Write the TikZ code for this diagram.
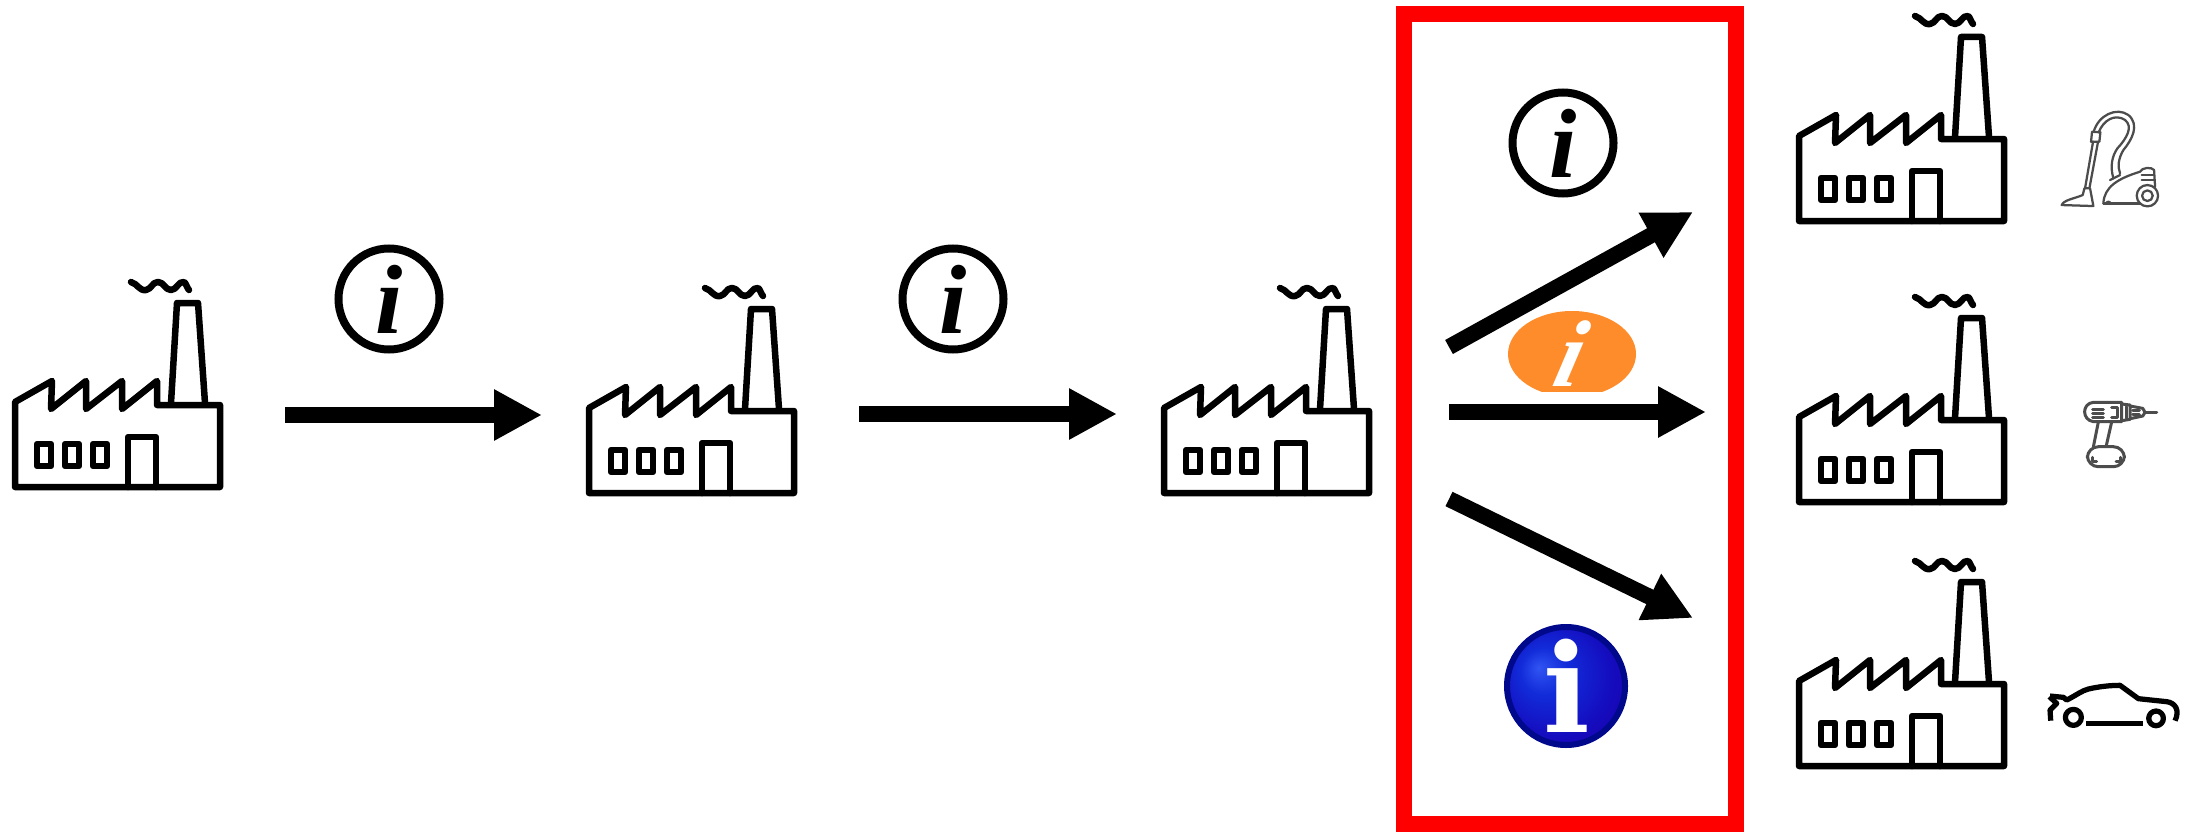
\documentclass[tikz,border=0pt]{standalone}
\usepackage{fontspec}
\usetikzlibrary{arrows.meta}
\newfontfamily\slabfont{DejaVu Serif}
\newfontfamily\infofont{Liberation Serif}
\definecolor{infoorange}{HTML}{FF8C2B}
\definecolor{infonavy}{HTML}{00088C}
\pgfdeclareradialshading{infoball}{\pgfpoint{-11.7bp}{7.8bp}}{rgb(0bp)=(.19,.33,.95); rgb(10bp)=(.07,.17,.85); rgb(25bp)=(.08,.05,.75); rgb(36bp)=(.1,0,.68); rgb(50bp)=(.1,0,.68)}
\tikzset{
	flow/.style={line width=3.2mm, -{Triangle[length=9.6mm,width=9.6mm]}},
	outline/.style={line width=1.3mm, line join=round, line cap=round},
	infoplain/.style={circle, draw, line width=1.6mm, minimum size=20.2mm, inner sep=0pt, font=\fontsize{56}{60}\selectfont\infofont\bfseries\itshape},
	thinicon/.style={line width=0.45mm, draw=black!70, line join=round, line cap=round},
	drillicon/.style={line width=0.6mm, draw=black!70, line join=round, line cap=round},
	caricon/.style={line width=1.05mm, line join=round}
}
\newcommand{\factory}[2]{
	\begin{scope}[shift={(#1,#2)}]
		\draw[outline] (15,487) -- (15,402) -- (52,381) -- (51,409) -- (86,381) -- (86,409) -- (122,381) -- (122,409) -- (157,381) -- (157,405) -- (220,405) -- (220,487) -- cycle;
		\draw[outline] (171,403) -- (177,303) -- (198,303) -- (205,403);
		\draw[outline] (131,282) .. controls (138,284) and (139,291) .. (146,290) .. controls (152,289) and (152,282) .. (158,282) .. controls (164,282) and (165,290) .. (171,290) .. controls (177,290) and (178,281) .. (184,282) .. controls (186,283) and (187,288) .. (189,290);
		\draw[outline] (37,444) rectangle (51,466);
		\draw[outline] (65,444) rectangle (79,466);
		\draw[outline] (93,444) rectangle (107,466);
		\draw[outline] (128,487) -- (128,437) -- (156,437) -- (156,487);
	\end{scope}
}

\begin{document}
\begin{tikzpicture}[x=0.2mm,y=-0.2mm]
	\useasboundingbox (0,0) rectangle (2187,831);
	
	%%%%% factories %%%%%
	\factory{0}{0}
	\factory{574}{6}
	\factory{1149}{6}
	\factory{1784}{-266}
	\factory{1784}{15}
	\factory{1784}{279}
	
	%%%%% red box %%%%%
	\draw[line width=3.2mm, color=red] (1404,14) rectangle (1736,824);
	
	%%%%% arrows %%%%%
	\coordinate (a1start) at (285,415);
	\coordinate (a1end) at (542,415);
	\coordinate (a2start) at (859,414);
	\coordinate (a2end) at (1117,414);
	\coordinate (upstart) at (1449,347);
	\coordinate (upend) at (1693,212);
	\coordinate (midstart) at (1449,412);
	\coordinate (midend) at (1706,412);
	\coordinate (downstart) at (1449,499);
	\coordinate (downend) at (1693,618);
	\draw[flow] (a1start) -- (a1end);
	\draw[flow] (a2start) -- (a2end);
	\draw[flow] (upstart) -- (upend);
	\draw[flow] (midstart) -- (midend);
	\draw[flow] (downstart) -- (downend);
	
	%%%%% info signs %%%%%
	\node[infoplain] (info1) at (389,299) {i};
	\node[infoplain] (info2) at (953,299) {i};
	\node[infoplain] (info3) at (1563,143) {i};
	
	\begin{scope}
		\clip (1500,300) rectangle (1650,391);
		\fill[infoorange] (1572,354) ellipse (64 and 43);
	\end{scope}
	\node[text=white, xslant=0.25, font=\fontsize{54}{56}\selectfont\infofont\bfseries\itshape] (info4) at (1572,354) {i};
	
	\shade[shading=infoball] (1566,686) circle (59);
	\draw[line width=1.2mm, infonavy] (1566,686) circle (59);
	\node[text=white, font=\fontsize{70}{72}\selectfont\slabfont\bfseries] (info5) at (1567,686) {i};
	
	%%%%% vacuum cleaner %%%%%
	\begin{scope}[shift={(2030,90)},x=0.0667mm,y=-0.0667mm]
		\draw[thinicon] (95,345) .. controls (100,330) and (135,325) .. (158,315) -- (163,295) -- (180,295) -- (190,348) -- cycle;
		\draw[thinicon] (165,295) -- (189,155) (178,295) -- (204,155);
		\draw[thinicon] (183,155) -- (186,125) -- (211,127) -- (208,155) -- cycle;
		\draw[thinicon] (191,125) .. controls (205,75) and (260,50) .. (295,75) .. controls (330,105) and (305,150) .. (280,180) .. controls (265,205) and (262,230) .. (270,250);
		\draw[thinicon] (206,127) .. controls (220,90) and (255,70) .. (285,90) .. controls (310,110) and (290,145) .. (262,175) .. controls (245,200) and (240,230) .. (250,265);
		\draw[thinicon] (220,340) .. controls (222,290) and (265,265) .. (330,245) .. controls (335,232) and (365,230) .. (372,240) -- (375,290);
		\draw[thinicon] (220,340) -- (330,340);
		\draw[thinicon] (335,255) -- (370,255) (335,270) -- (372,270);
		\draw[thinicon] (240,270) -- (270,255);
		\draw[thinicon] (352,317) circle (32);
		\draw[thinicon] (352,317) circle (16);
		\draw[thinicon] (228,342) arc (180:360:7);
	\end{scope}
	
	%%%%% drill %%%%%
	\begin{scope}[shift={(2030,370)},x=0.0667mm,y=-0.0667mm]
		\draw[drillicon] (190,97) -- (275,97) -- (275,155) -- (190,155) .. controls (155,150) and (155,100) .. (190,97) -- cycle;
		\draw[drillicon] (275,102) -- (300,105) -- (300,148) -- (275,152);
		\draw[drillicon] (300,108) -- (338,115) -- (345,127) -- (338,138) -- (300,146);
		\draw[drillicon] (345,127) -- (380,127);
		\draw[drillicon] (188,117) -- (220,117) (188,130) -- (220,130) (188,143) -- (220,143);
		\draw[drillicon] (245,113) -- (262,113) -- (262,143) -- (245,143);
		\draw[drillicon] (288,110) -- (288,145) (308,122) -- (328,122) (308,134) -- (328,134);
		\draw[drillicon] (205,155) -- (190,230) (245,155) -- (228,230);
		\draw[drillicon, rounded corners=2.2mm] (172,230) rectangle (283,290);
		\draw[drillicon] (188,262) -- (188,275) -- (200,275) (272,262) -- (272,275) -- (258,275);
	\end{scope}
	
	%%%%% car %%%%%
	\begin{scope}[shift={(2030,660)},x=0.0667mm,y=-0.0667mm]
		\draw[caricon] (60,108) -- (100,112) -- (110,120) .. controls (140,105) and (155,92) .. (175,87) .. controls (205,80) and (240,76) .. (270,76) -- (325,116) -- (410,125) .. controls (435,128) and (450,150) .. (435,182);
		\draw[caricon] (58,110) -- (80,130) -- (60,150) -- (62,182);
		\draw[caricon] (130,172) circle (24);
		\draw[caricon] (378,175) circle (22);
		\draw[caricon] (168,190) -- (338,190);
	\end{scope}
\end{tikzpicture}
\end{document}
